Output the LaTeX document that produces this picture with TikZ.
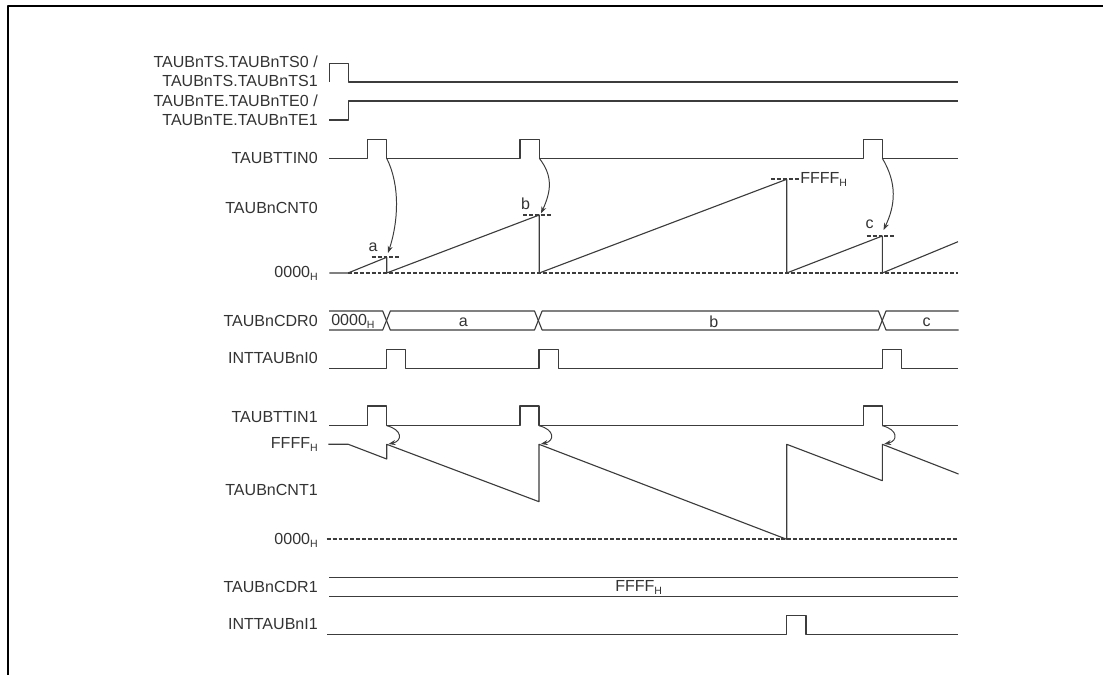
\documentclass[tikz,border=0pt]{standalone}
\usepackage{fontspec}
\setmainfont{Liberation Sans}
\usepackage{tikz}
\usetikzlibrary{arrows.meta}
\definecolor{ink}{HTML}{333333}
\definecolor{trace}{HTML}{3C3C3C}
\newcommand{\hexH}{\raisebox{-0.35ex}{\fontsize{7.5}{8}\selectfont H}}
\tikzset{
  every picture/.style={
    line join=round,
    >=Stealth,
  },
  sig/.style={draw=trace, line width=0.8pt},
  % the zero and value levels are drawn heavier than the traces
  level/.style={draw=trace, line width=1.4pt, dash pattern=on 2.8pt off 1.4pt},
  lbl/.style={anchor=east, inner sep=0pt, text=ink, align=right},
  val/.style={inner sep=0pt, text=ink},
  trig/.style={draw=trace, line width=0.7pt, -{Stealth[length=5pt,width=3.6pt]}},
}

\begin{document}
\begin{tikzpicture}[x=0.025cm,y=-0.025cm,font=\fontsize{11.4}{13.5}\selectfont]
\useasboundingbox (0,0) rectangle (1103,675);
\draw[line width=1.4pt](7.7,675)--(7.7,6)--(1103,6);
% signal names, right aligned on one edge
\node[lbl] (ts) at (318,71.5) {TAUBnTS.TAUBnTS0 /\\TAUBnTS.TAUBnTS1};
\node[lbl] (te) at (318,110) {TAUBnTE.TAUBnTE0 /\\TAUBnTE.TAUBnTE1};
\node[lbl] (ttin0) at (318,158) {TAUBTTIN0};
\node[lbl] (cnt0) at (318,207.7) {TAUBnCNT0};
\node[lbl] (zero0) at (318,273) {0000\hexH};
\node[lbl] (cdr0) at (318,320.5) {TAUBnCDR0};
\node[lbl] (int0) at (318,358.3) {INTTAUBnI0};
\node[lbl] (ttin1) at (318,416.7) {TAUBTTIN1};
\node[lbl] (full1) at (318,444.3) {FFFF\hexH};
\node[lbl] (cnt1) at (318,490) {TAUBnCNT1};
\node[lbl] (zero1) at (318,540) {0000\hexH};
\node[lbl] (cdr1) at (318,587.3) {TAUBnCDR1};
\node[lbl] (int1) at (318,624) {INTTAUBnI1};
% start / enable
\draw[sig](329.3,82)--(329.3,63.3)--(348.7,63.3)--(348.7,82)--(958,82);
\draw[sig](329.3,120)--(348.7,120)--(348.7,101)--(958,101);
% TAUBTTIN0
\draw[sig](329.3,158.3)--(367.3,158.3)--(367.3,139.3)--(386.7,139.3)--(386.7,158.3)
  --(520,158.3)--(520,139.3)--(539.3,139.3)--(539.3,158.3)
  --(863.3,158.3)--(863.3,139.3)--(882.3,139.3)--(882.3,158.3)--(958,158.3);
% counter 0
\draw[level](348,273)--(958,273);
\draw[sig](329.3,273)--(348,273)--(386.7,257.3)--(386.7,273)--(539.3,215)--(539.3,273)
  --(786.7,179.3)--(786.7,273)--(882.3,236)--(882.3,273)--(958,241.7);
\draw[level](371.7,257.3)--(399,257.3);
\draw[level](523,215)--(551.7,215);
\draw[level](866.7,236)--(895,236);
\draw[level](771,179.3)--(799,179.3);
\node[val] (va) at (373,247) {a};
\node[val] (vb) at (525.5,204) {b};
\node[val] (vc) at (869.5,224) {c};
\node[val,anchor=west] (vfull) at (800,179.3) {FFFF\hexH};
\coordinate (trA) at (386.7,158.3);
\coordinate (trB) at (539.3,158.3);
\coordinate (trC) at (882.3,158.3);
\coordinate (capA) at (388,253);
\coordinate (capB) at (541,213.5);
\coordinate (capC) at (883.5,230);
\draw[trig](trA) .. controls +(14,28) and +(10,-30) .. (capA);
\draw[trig](trB) .. controls +(14,18) and +(10,-22) .. (capB);
\draw[trig](trC) .. controls +(15,25) and +(12,-25) .. (capC);
% capture register 0
\draw[sig](329,311)--(382.7,311)--(390.3,330)--(534.5,330)--(542.1,311)--(878.4,311)--(886,330)--(958.5,330);
\draw[sig](329,330)--(382.7,330)--(390.3,311)--(534.5,311)--(542.1,330)--(878.4,330)--(886,311)--(958.5,311);
\node[val,anchor=west] (d0) at (331,321) {0000\hexH};
\node[val] (da) at (463.3,322) {a};
\node[val] (db) at (713.7,322) {b};
\node[val] (dc) at (926.5,322) {c};
% INTTAUBnI0
\draw[sig](329,368.3)--(386.7,368.3)--(386.7,349.3)--(405.7,349.3)--(405.7,368.3)
  --(539,368.3)--(539,349.3)--(558.3,349.3)--(558.3,368.3)
  --(882.3,368.3)--(882.3,349.3)--(901.3,349.3)--(901.3,368.3)--(958,368.3);
% TAUBTTIN1
\draw[sig](329,425.7)--(367.7,425.7)--(367.7,406)--(386.7,406)--(386.7,425.7)
  --(520,425.7)--(520,406)--(539,406)--(539,425.7)
  --(863.3,425.7)--(863.3,406)--(882.3,406)--(882.3,425.7)--(958,425.7);
% counter 1 counts down
\draw[level](326.7,539.3)--(958,539.3);
\draw[sig](328.3,444.3)--(348.3,444.3)--(386.7,459)--(386.7,444.3)--(539,501.7)--(539,444.3)
  --(786.7,539.3)--(786.7,444.3)--(882.3,480.7)--(882.3,444.3)--(958.5,474);
\coordinate (trD) at (386.7,425.7);
\coordinate (trE) at (539,425.7);
\coordinate (trF) at (882.3,425.7);
\coordinate (ldD) at (388.5,444);
\coordinate (ldE) at (540.8,444);
\coordinate (ldF) at (884.1,444);
\draw[trig](trD) .. controls +(16,4) and +(14,-3) .. (ldD);
\draw[trig](trE) .. controls +(16,4) and +(14,-3) .. (ldE);
\draw[trig](trF) .. controls +(16,4) and +(14,-3) .. (ldF);
% capture register 1
\draw[sig](329,577.7)--(958,577.7);
\draw[sig](329,596.7)--(958,596.7);
\node[val,anchor=west] (d1) at (615,587.3) {FFFF\hexH};
% INTTAUBnI1
\draw[sig](327.3,634.3)--(786.7,634.3)--(786.7,615.7)--(806,615.7)--(806,634.3)--(958,634.3);
\end{tikzpicture}
\end{document}
